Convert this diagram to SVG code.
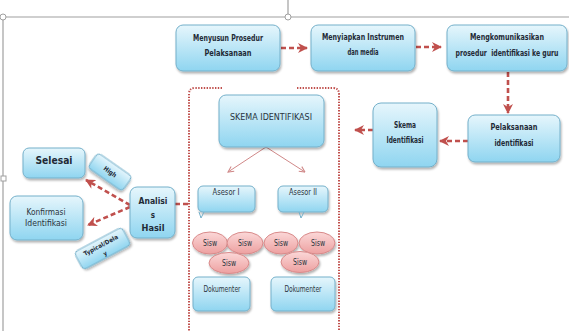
<svg xmlns="http://www.w3.org/2000/svg" width="569" height="331" viewBox="0 0 569 331">
<defs>
<linearGradient id="blue" x1="0" y1="0" x2="0" y2="1">
<stop offset="0" stop-color="#e6f6fc"/>
<stop offset="1" stop-color="#8fd5f0"/>
</linearGradient>
<linearGradient id="pink" x1="0" y1="0" x2="0" y2="1">
<stop offset="0" stop-color="#fbd8d8"/>
<stop offset="1" stop-color="#eda0a0"/>
</linearGradient>
<filter id="sh" x="-20%" y="-20%" width="140%" height="150%">
<feDropShadow dx="1" dy="2" stdDeviation="1.2" flood-color="#000" flood-opacity="0.3"/>
</filter>
<marker id="ah" viewBox="0 0 10 10" refX="9" refY="5" markerWidth="10" markerHeight="10" markerUnits="userSpaceOnUse" orient="auto">
<path d="M0,0 L10,5 L0,10 L3,5 z" fill="#c0504d"/>
</marker>
<marker id="thin" viewBox="0 0 10 10" refX="9" refY="5" markerWidth="7" markerHeight="7" markerUnits="userSpaceOnUse" orient="auto">
<path d="M1,1 L9,5 L1,9" fill="none" stroke="#d08888" stroke-width="1.5"/>
</marker>
</defs>
<style>
.box{fill:url(#blue);stroke:#74b0ca;stroke-width:1;filter:url(#sh)}
.sis{fill:url(#pink);stroke:#d88a8a;stroke-width:1;filter:url(#sh)}
.t{font-family:"DejaVu Sans Condensed","Liberation Sans",sans-serif;font-size:8px;fill:#1f2a36;text-anchor:middle;dominant-baseline:central}
.b{font-weight:bold}
.r{font-weight:normal;fill:#2a3440}
.dash{fill:none;stroke:#c0504d;stroke-width:2.6;stroke-dasharray:5 3}
.dot{fill:none;stroke:#c0504d;stroke-width:2;stroke-dasharray:1.4 1.4}
.frame{fill:none;stroke:#a0a0a0;stroke-width:1.2}
.thinl{fill:none;stroke:#d08888;stroke-width:1}
</style>

<g id="frame">
<line class="frame" x1="3" y1="17" x2="569" y2="17"/>
<line class="frame" x1="3" y1="17" x2="3" y2="331"/>
<line class="frame" x1="288" y1="0" x2="288" y2="14"/>
<circle cx="3" cy="17" r="3" fill="#fff" stroke="#a0a0a0"/>
<circle cx="288" cy="17" r="3" fill="#fff" stroke="#a0a0a0"/>
<rect x="1" y="176" width="5" height="5" fill="#fff" stroke="#a0a0a0"/>
</g>

<g id="connectors">
<line class="dash" x1="281" y1="48" x2="307" y2="48" marker-end="url(#ah)"/>
<line class="dash" x1="416" y1="47" x2="441" y2="47" marker-end="url(#ah)"/>
<line class="dash" x1="508" y1="72" x2="508" y2="113" marker-end="url(#ah)"/>
<line class="dash" x1="468" y1="141" x2="440" y2="141" marker-end="url(#ah)"/>
<line class="dash" x1="373" y1="130" x2="355" y2="130" marker-end="url(#ah)"/>
<line class="dash" x1="130" y1="205" x2="86" y2="180" marker-end="url(#ah)"/>
<line class="dash" x1="130" y1="207" x2="88" y2="225" marker-end="url(#ah)"/>
<line class="dash" x1="175" y1="204" x2="188" y2="204"/>
<line class="thinl" x1="266" y1="147" x2="228" y2="172" marker-end="url(#thin)"/>
<line class="thinl" x1="266" y1="147" x2="305" y2="172" marker-end="url(#thin)"/>
</g>

<g id="dotted-frame">
<path class="dot" d="M222,88 L195,88 Q189,88 189,94 L189,331"/>
<path class="dot" d="M297,88 L333,88 Q339,88 339,94 L339,331"/>
</g>

<g id="menyusun">
<rect class="box" x="176" y="25" width="104" height="46" rx="7"/>
<text class="t b" x="228" y="38" textLength="70" lengthAdjust="spacingAndGlyphs">Menyusun Prosedur</text>
<text class="t b" x="228" y="53" textLength="47" lengthAdjust="spacingAndGlyphs">Pelaksanaan</text>
</g>
<g id="menyiapkan">
<rect class="box" x="311" y="25" width="104" height="46" rx="7"/>
<text class="t b" x="363" y="37" textLength="82" lengthAdjust="spacingAndGlyphs">Menyiapkan Instrumen</text>
<text class="t b" x="363" y="52" textLength="31" lengthAdjust="spacingAndGlyphs">dan media</text>
</g>
<g id="mengkomunikasikan">
<rect class="box" x="447" y="25" width="120" height="46" rx="7"/>
<text class="t b" x="507" y="37" textLength="74" lengthAdjust="spacingAndGlyphs">Mengkomunikasikan</text>
<text class="t b" x="507" y="53" textLength="103" lengthAdjust="spacingAndGlyphs" xml:space="preserve">prosedur  identifikasi ke guru</text>
</g>
<g id="pelaksanaan">
<rect class="box" x="468" y="115" width="92" height="47" rx="7"/>
<text class="t b" x="514" y="127" textLength="47" lengthAdjust="spacingAndGlyphs">Pelaksanaan</text>
<text class="t b" x="514" y="143" textLength="39" lengthAdjust="spacingAndGlyphs">identifikasi</text>
</g>
<g id="skema-identifikasi">
<rect class="box" x="373" y="103" width="64" height="64" rx="8"/>
<text class="t b" x="405" y="125" textLength="22" lengthAdjust="spacingAndGlyphs">Skema</text>
<text class="t b" x="405" y="140" textLength="37" lengthAdjust="spacingAndGlyphs">Identifikasi</text>
</g>

<g id="skema-box">
<rect class="box" x="219" y="95" width="105" height="52" rx="7"/>
<text class="t r" x="271" y="117" textLength="82" lengthAdjust="spacingAndGlyphs">SKEMA IDENTIFIKASI</text>
</g>
<g id="asesor1">
<rect class="box" x="198" y="186" width="57" height="26" rx="5"/>
<path d="M199,212 L201,218 L204,212" fill="none" stroke="#74b0ca" stroke-width="1"/>
<text class="t r" x="226" y="192" textLength="27" lengthAdjust="spacingAndGlyphs">Asesor I</text>
</g>
<g id="asesor2">
<rect class="box" x="278" y="186" width="50" height="26" rx="5"/>
<path d="M299,212 L301,218 L304,212" fill="none" stroke="#74b0ca" stroke-width="1"/>
<text class="t r" x="303" y="192" textLength="28" lengthAdjust="spacingAndGlyphs">Asesor II</text>
</g>

<g id="sisw-group1">
<ellipse class="sis" cx="210" cy="243" rx="17.5" ry="11"/>
<text class="t r" x="210" y="243" textLength="14" lengthAdjust="spacingAndGlyphs">Sisw</text>
<ellipse class="sis" cx="245" cy="243" rx="18" ry="11"/>
<text class="t r" x="245" y="243" textLength="14" lengthAdjust="spacingAndGlyphs">Sisw</text>
<ellipse class="sis" cx="229" cy="263" rx="20" ry="10.5"/>
<text class="t r" x="229" y="263" textLength="14" lengthAdjust="spacingAndGlyphs">Sisw</text>
</g>
<g id="sisw-group2">
<ellipse class="sis" cx="281" cy="243" rx="17" ry="11"/>
<text class="t r" x="281" y="243" textLength="14" lengthAdjust="spacingAndGlyphs">Sisw</text>
<ellipse class="sis" cx="317" cy="243" rx="18" ry="11"/>
<text class="t r" x="318" y="243" textLength="14" lengthAdjust="spacingAndGlyphs">Sisw</text>
<ellipse class="sis" cx="300" cy="262" rx="19" ry="10.5"/>
<text class="t r" x="300" y="262" textLength="14" lengthAdjust="spacingAndGlyphs">Sisw</text>
</g>

<g id="dokumenter1">
<rect class="box" x="193" y="277" width="57" height="34" rx="5"/>
<text class="t r" x="222" y="289" textLength="37" lengthAdjust="spacingAndGlyphs">Dokumenter</text>
</g>
<g id="dokumenter2">
<rect class="box" x="271" y="277" width="64" height="34" rx="5"/>
<text class="t r" x="303" y="289" textLength="37" lengthAdjust="spacingAndGlyphs">Dokumenter</text>
</g>

<g id="analisis">
<rect class="box" x="130" y="187" width="45" height="51" rx="7"/>
<text class="t b" x="153" y="201" textLength="29" lengthAdjust="spacingAndGlyphs">Analisi</text>
<text class="t b" x="153" y="215">s</text>
<text class="t b" x="153" y="228" textLength="23" lengthAdjust="spacingAndGlyphs">Hasil</text>
</g>
<g id="selesai">
<rect class="box" x="23" y="148" width="62" height="30" rx="6"/>
<text class="t b" x="54" y="160" style="font-size:10px" textLength="37" lengthAdjust="spacingAndGlyphs">Selesai</text>
</g>
<g id="konfirmasi">
<rect class="box" x="10" y="196" width="73" height="44" rx="7"/>
<text class="t r" x="46" y="212" textLength="39" lengthAdjust="spacingAndGlyphs">Konfirmasi</text>
<text class="t r" x="46" y="223" textLength="42" lengthAdjust="spacingAndGlyphs">Identifikasi</text>
</g>
<g id="high" transform="translate(110,172) rotate(35)">
<rect class="box" x="-21" y="-9" width="42" height="18" rx="4"/>
<text class="t b" x="0" y="0" style="font-size:6.5px" textLength="14" lengthAdjust="spacingAndGlyphs">High</text>
</g>
<g id="typical" transform="translate(102.5,248.5) rotate(-28)">
<rect class="box" x="-27" y="-10" width="54" height="20" rx="4"/>
<text class="t b" x="0" y="-4" style="font-size:6px" textLength="38" lengthAdjust="spacingAndGlyphs">Typical/Dela</text>
<text class="t b" x="0" y="5" style="font-size:6px">y</text>
</g>
</svg>
